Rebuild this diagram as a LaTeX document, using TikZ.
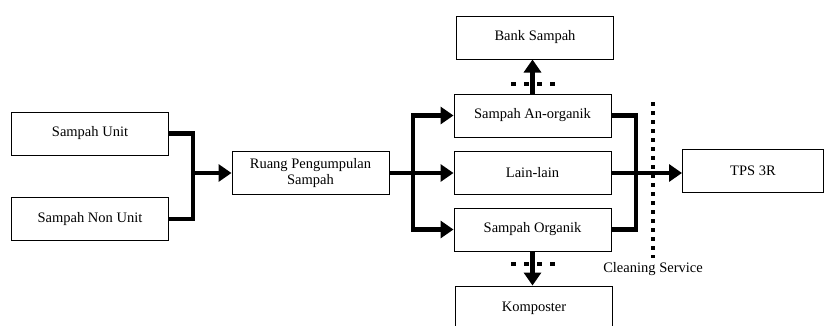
\documentclass[tikz,border=0pt]{standalone}
\usepackage{fontspec}
\setmainfont{Liberation Serif}
\usetikzlibrary{arrows.meta}
\begin{document}
\begin{tikzpicture}[x=1pt,y=-1pt,
  box/.style={draw, line width=1pt, minimum width=157pt, minimum height=43pt,
    inner sep=0pt, align=center, font=\fontsize{14.5}{16.5}\selectfont},
  thickline/.style={line width=4.6pt, line join=miter},
  flow/.style={thickline, -{Triangle[length=13pt,width=17pt]}},
  dotline/.style={line width=4.2pt, dash pattern=on 4.2pt off 4.8pt}
]
\useasboundingbox (0,0) rectangle (825,325);
\clip (0,0) rectangle (825,325);

% nodes
\node[box] (unit)    at (90,133.5)  {Sampah Unit};
\node[box] (nonunit) at (90,219)    {Sampah Non Unit};
\node[box] (ruang)   at (310.5,173) {Ruang Pengumpulan\\Sampah};
\node[box] (anorg)   at (532.5,115.5) {Sampah An-organik};
\node[box] (lain)    at (532.5,173) {Lain-lain};
\node[box] (org)     at (532.5,229.5) {Sampah Organik};
\node[box] (bank)    at (535,37.5)  {Bank Sampah};
\node[box, minimum height=44pt] (kompos) at (534,308) {Komposter};
\node[box, minimum width=141pt] (tps) at (753,171) {TPS 3R};
\node[font=\fontsize{14.5}{16.5}\selectfont] (cs) at (653,269) {Cleaning Service};

% junctions
\coordinate (j1) at (193,173);
\coordinate (j2) at (413,173);
\coordinate (j3) at (636,173);

% left merge
\draw[thickline] (unit.east) -| (j1);
\draw[thickline] (nonunit.east) -| (j1);
\draw[flow] (j1) -- (ruang.west);

% split
\draw[thickline] (ruang.east) -- (j2);
\draw[flow] (j2) |- (anorg.west);
\draw[flow] (j2) -- (lain.west);
\draw[flow] (j2) |- (org.west);

% right merge
\draw[thickline] (anorg.east) -| (j3);
\draw[thickline] (org.east) -| (j3);
\draw[flow] (lain.east) -- (lain.east -| tps.west);

% dotted lines
\coordinate (dvtop) at (653,102);
\coordinate (dvbot) at (653,258);
\draw[dotline] (dvtop) -- (dvbot);

\coordinate (dh1a) at (511,84);
\coordinate (dh1b) at (558,84);
\draw[dotline, dash pattern=on 5pt off 8pt] (dh1a) -- (dh1b);
\coordinate (dh2a) at (511,264);
\coordinate (dh2b) at (558,264);
\draw[dotline, dash pattern=on 5pt off 8pt] (dh2a) -- (dh2b);

% up / down arrows
\draw[flow] (anorg.north) -- (anorg.north |- bank.south);
\draw[flow] (org.south) -- (org.south |- kompos.north);
\end{tikzpicture}
\end{document}
